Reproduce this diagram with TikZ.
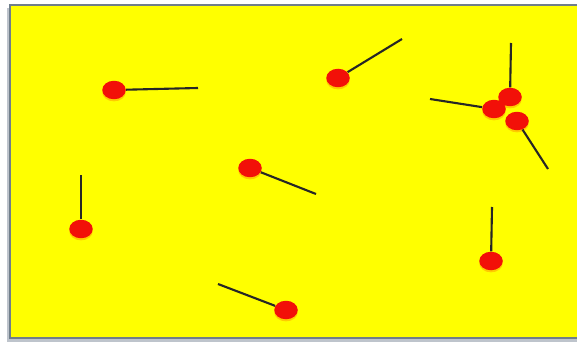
\documentclass[tikz,border=0pt]{standalone}
\usepackage{tikz}
\usetikzlibrary{shapes.geometric,shadows}

\definecolor{frameGray}{RGB}{112,126,138}
\definecolor{shadeGray}{RGB}{190,196,204}
\definecolor{boxYellow}{RGB}{255,255,0}
\definecolor{dotRed}{RGB}{242,16,8}

\begin{document}
\begin{tikzpicture}[x=0.02cm, y=-0.02cm,
    molecule/.style={ellipse, fill=dotRed, minimum width=0.47cm, minimum height=0.37cm, inner sep=0pt,
      drop shadow={fill=orange!80!yellow, opacity=0.5, shadow xshift=0pt, shadow yshift=-1.2pt}},
    velocity/.style={line width=1.2pt, draw=black!85}]
    % 画布范围
    \useasboundingbox (0,0) rectangle (577,344);

    % 黄色容器及其阴影
    \fill[shadeGray] (7,8) rectangle (578,342);
    \draw[fill=boxYellow, draw=frameGray, line width=1pt] (10,5) rectangle (578,338);

    % 分子及其速度线
    \foreach \i/\mx/\my/\vx/\vy in {1/114/90/198/88, 2/338/78/402/39, 3/510/97/511/43,
        4/494/109/430/99, 5/517/121/548/169, 6/250/168/316/194, 7/81/229/81/175,
        8/491/261/492/207, 9/286/310/218/284} {
        \node[molecule] (m\i) at (\mx,\my) {};
        \coordinate (v\i) at (\vx,\vy);
        \draw[velocity] (m\i) -- (v\i);
    }
\end{tikzpicture}
\end{document}
